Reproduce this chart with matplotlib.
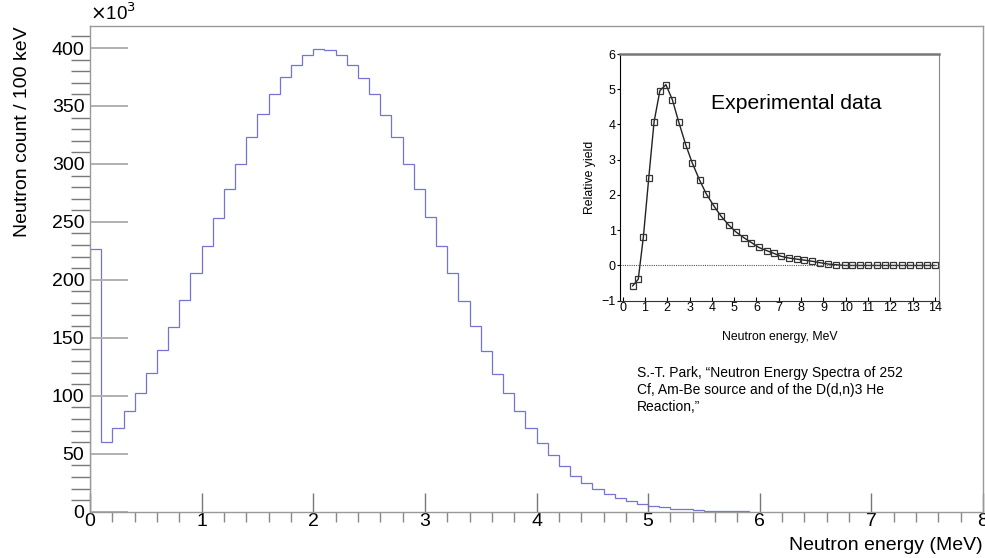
import numpy as np
import matplotlib
matplotlib.use("Agg")
import matplotlib.pyplot as plt
from matplotlib.ticker import MultipleLocator

plt.rcParams['font.family'] = ['Liberation Sans', 'DejaVu Sans']

# histogram: 0.1 MeV bins, counts in units of 1e3
bin_width = 0.1
counts = [227, 60, 72, 86.5, 102, 119.5, 139.5, 159.5, 182.5, 206,
          229, 253, 278, 300, 323.5, 343, 360, 375, 385.5, 394,
          399, 398.5, 394, 385, 374.5, 360, 342.5, 323, 300, 278,
          254, 229, 206, 182, 160, 139, 119, 102, 86.5, 72,
          59, 49, 39.3, 31, 25, 19.3, 15.3, 11.5, 9, 6.9,
          4.9, 3.8, 2, 2, 1.2, 0.3, 0.3, 0.3, 0.3]

# inset: experimental relative yield
exp_e = [0.45, 0.70, 0.93, 1.17, 1.41, 1.67, 1.94, 2.23, 2.51, 2.83,
         3.12, 3.45, 3.75, 4.10, 4.41, 4.75, 5.08, 5.43, 5.77, 6.11,
         6.46, 6.79, 7.10, 7.46, 7.80, 8.15, 8.49, 8.83, 9.22, 9.58,
         9.96, 10.3, 10.65, 11.0, 11.4, 11.75, 12.1, 12.5, 12.9, 13.3,
         13.65, 14.0]
exp_y = [-0.58, -0.39, 0.81, 2.48, 4.08, 4.96, 5.13, 4.70, 4.08, 3.42,
         2.91, 2.42, 2.03, 1.68, 1.40, 1.15, 0.95, 0.79, 0.65, 0.51,
         0.42, 0.34, 0.26, 0.21, 0.18, 0.15, 0.12, 0.08, 0.04, 0.02,
         0.0, 0.0, 0.0, 0.0, 0.0, 0.0, 0.0, 0.0, 0.0, 0.0,
         0.0, 0.0]

fig = plt.figure(figsize=(9.85, 5.58), dpi=100)
ax = fig.add_axes([0.0914, 0.083, 0.9066, 0.8704])

edges = np.arange(len(counts) + 1) * bin_width
ax.stairs(counts, edges, color='#7474d4', lw=0.9)
ax.set_xlim(0, 8)
ax.set_ylim(0, 419)

ax.xaxis.set_major_locator(MultipleLocator(1))
ax.xaxis.set_minor_locator(MultipleLocator(0.2))
ax.yaxis.set_major_locator(MultipleLocator(50))
ax.yaxis.set_minor_locator(MultipleLocator(10))
ax.tick_params(axis='both', direction='in', labelsize=14, colors='#333333',
               labelcolor='black')
ax.tick_params(axis='y', which='major', length=27, width=1.4, color='#b0b0b0', pad=4)
ax.tick_params(axis='y', which='minor', length=14, width=1, color='#777777')
ax.tick_params(axis='x', which='major', length=14, width=1, color='#777777', pad=1)
ax.tick_params(axis='x', which='minor', length=7, width=1, color='#888888')
for s in ax.spines.values():
    s.set_color('#999999')
    s.set_linewidth(1)

ax.set_xlabel('Neutron energy (MeV)', fontsize=14, loc='right', labelpad=5)
ax.set_ylabel('Neutron count / 100 keV', fontsize=14, loc='top', labelpad=15)
ax.text(0, 1.004, r'$\times$10$^3$', transform=ax.transAxes, fontsize=13.5,
        ha='left', va='bottom')

# inset
ins = fig.add_axes([0.6294, 0.4611, 0.3239, 0.4421])
ins.plot(exp_e, exp_y, color='#222222', lw=1, marker='s', ms=5,
         mfc='none', mec='#333333', mew=0.9)
ins.axhline(0, color='#555555', lw=0.8, ls=(0, (1, 1)))
ins.set_xlim(-0.12, 14.18)
ins.set_ylim(-1, 6)
ins.set_xticks(range(0, 15))
ins.set_yticks(range(-1, 7))
ins.tick_params(axis='x', direction='in', length=3, labelsize=9, pad=1)
ins.tick_params(axis='y', direction='out', length=2, labelsize=9, pad=1)
ins.set_xlabel('Neutron energy, MeV', fontsize=8.8, labelpad=12)
ins.set_ylabel('Relative yield', fontsize=8.8, labelpad=4)
ins.spines['left'].set_color('black')
ins.spines['bottom'].set_color('#333333')
ins.spines['top'].set_color('#777777')
ins.spines['top'].set_linewidth(1.8)
ins.spines['right'].set_color('#888888')
ins.text(0.285, 0.80, 'Experimental data', transform=ins.transAxes, fontsize=15.2,
         ha='left', va='center')

fig.text(0.6464, 0.301,
         'S.-T. Park, \u201cNeutron Energy Spectra of 252\n'
         'Cf, Am-Be source and of the D(d,n)3 He\n'
         'Reaction,\u201d',
         fontsize=10, ha='left', va='center', linespacing=1.3)

fig.savefig('out.png', dpi=100)
